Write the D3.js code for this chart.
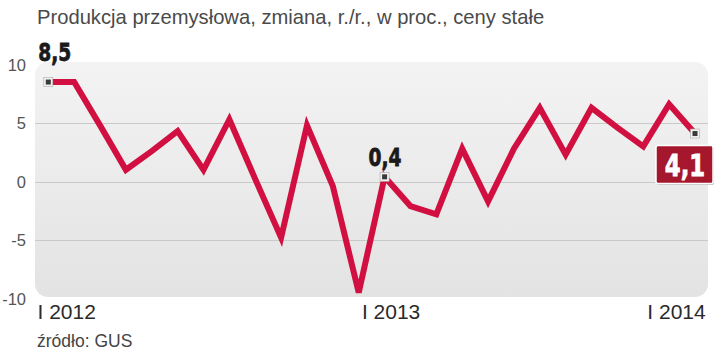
<!DOCTYPE html>
<html>
<head>
<meta charset="utf-8">
<script src="https://cdn.jsdelivr.net/npm/d3@7"></script>
<style>
  body { margin: 0; background: #fff; }
  svg { display: block; font-family: "Liberation Sans", Arial, sans-serif; }
</style>
</head>
<body>
<svg id="chart" width="720" height="352"></svg>
<script>
// miesiące XII 2011 – I 2014
const months = ["XII 2011", "I 2012", "II 2012", "III 2012", "IV 2012", "V 2012", "VI 2012",
  "VII 2012", "VIII 2012", "IX 2012", "X 2012", "XI 2012", "XII 2012", "I 2013", "II 2013",
  "III 2013", "IV 2013", "V 2013", "VI 2013", "VII 2013", "VIII 2013", "IX 2013", "X 2013",
  "XI 2013", "XII 2013", "I 2014"];
const values = [8.5, 8.5, 4.8, 1.0, 2.6, 4.3, 1.0, 5.3, 0.2, -4.8, 4.8, -0.4, -9.5, 0.4,
  -2.1, -2.8, 2.8, -1.7, 2.8, 6.3, 2.3, 6.3, 4.6, 3.0, 6.6, 4.1];
const yTicks = [10, 5, 0, -5, -10];
const xTickLabels = ["I 2012", "I 2013", "I 2014"];
const labelled = ["XII 2011", "I 2013", "I 2014"];

const title = "Produkcja przemysłowa, zmiana, r./r., w proc., ceny stałe";
const source = "źródło: GUS";

const svg = d3.select("#chart");
const fmt = v => d3.format(".1f")(v).replace(".", ",");

const x = d3.scalePoint().domain(months).range([48.3, 695]);
const y = d3.scaleLinear().domain([-10, 10]).range([298.5, 64.5]);

const defs = svg.append("defs");
const grad = defs.append("linearGradient").attr("id", "bg").attr("x1", 0).attr("y1", 0).attr("x2", 0).attr("y2", 1);
grad.append("stop").attr("offset", "0%").attr("stop-color", "#f3f3f3");
grad.append("stop").attr("offset", "100%").attr("stop-color", "#e3e3e3");

// tło wykresu
svg.append("rect")
  .attr("x", 35).attr("y", 62)
  .attr("width", 673).attr("height", 235)
  .attr("rx", 13)
  .attr("fill", "url(#bg)");

// linie siatki
svg.append("g")
  .selectAll("line")
  .data(yTicks.filter(d => d > -10 && d < 10))
  .join("line")
  .attr("x1", 35).attr("x2", 708)
  .attr("y1", d => Math.round(y(d)) + 0.5)
  .attr("y2", d => Math.round(y(d)) + 0.5)
  .attr("stroke", "#c9c9c9")
  .attr("stroke-width", 1.2);

// oś Y
const yAxis = svg.append("g")
  .attr("transform", "translate(26,0)")
  .call(d3.axisLeft(y).tickValues(yTicks).tickFormat(d => String(d)).tickSize(0).tickPadding(0));
yAxis.select(".domain").remove();
yAxis.selectAll("text")
  .attr("font-family", "Liberation Sans, Arial, sans-serif")
  .attr("font-size", 16.5)
  .attr("fill", "#555")
  .attr("dy", "0.36em");

// oś X
const xAxis = svg.append("g")
  .attr("transform", "translate(0,300)")
  .call(d3.axisBottom(x).tickValues(xTickLabels).tickSize(0).tickPadding(4));
xAxis.select(".domain").remove();
const xShift = { "I 2012": -8, "I 2013": 6, "I 2014": -19 };
xAxis.selectAll("text")
  .attr("font-family", "Liberation Sans, Arial, sans-serif")
  .attr("font-size", 21)
  .attr("fill", "#2a2a2a")
  .attr("dx", d => xShift[d])
  .attr("dy", "0.71em");

// linia
const line = d3.line()
  .x((d, i) => x(months[i]))
  .y(d => y(d));

svg.append("path")
  .datum(values)
  .attr("fill", "none")
  .attr("stroke", "#d10f41")
  .attr("stroke-width", 6)
  .attr("stroke-linejoin", "miter")
  .attr("d", line);

// znaczniki
const pts = labelled.map(m => ({ m, v: values[months.indexOf(m)] }));
const mk = svg.append("g").selectAll("g").data(pts).join("g")
  .attr("transform", d => `translate(${x(d.m)},${y(d.v)})`);
mk.append("rect")
  .attr("x", -4.5).attr("y", -4.5).attr("width", 9).attr("height", 9)
  .attr("fill", "#f2f2f2").attr("stroke", "#aaa").attr("stroke-width", 0.6);
mk.append("rect")
  .attr("x", -2.5).attr("y", -2.5).attr("width", 5).attr("height", 5)
  .attr("fill", "#3a3a3a");

// podpisy wartości (pogrubione, zwężone)
const bold = "'DejaVu Sans', sans-serif";
const first = pts[0], mid = pts[1], last = pts[2];

function boldLabel(tx, ty, anchor, size, color, txt) {
  svg.append("text")
    .attr("transform", `translate(${tx},${ty}) scale(0.76,1)`)
    .attr("text-anchor", anchor)
    .attr("font-family", bold).attr("font-weight", "bold").attr("font-size", size)
    .attr("fill", color)
    .attr("stroke", color).attr("stroke-width", 0.8)
    .text(txt);
}

boldLabel(x(first.m) - 10, y(first.v) - 21, "start", 24.5, "#1a1a1a", fmt(first.v));
boldLabel(x(mid.m) + 0.5, y(mid.v) - 11, "middle", 24.5, "#1a1a1a", fmt(mid.v));

const bx = x(last.m) - 39, by = y(last.v) + 12;
svg.append("rect")
  .attr("x", bx + 1).attr("y", by + 1.5).attr("width", 57).attr("height", 38)
  .attr("rx", 2).attr("fill", "#bdbdbd");
svg.append("rect")
  .attr("x", bx).attr("y", by).attr("width", 57).attr("height", 38)
  .attr("rx", 2).attr("fill", "#a5172d").attr("stroke", "#fff").attr("stroke-width", 1.5);
boldLabel(bx + 29, by + 30.5, "middle", 30, "#fff", fmt(last.v));

// tytuł i źródło
svg.append("text")
  .attr("x", 37).attr("y", 24)
  .attr("font-size", 20.2).attr("fill", "#4a4a4a")
  .text(title);

svg.append("text")
  .attr("x", 37).attr("y", 347)
  .attr("font-size", 17.5).attr("fill", "#444")
  .text(source);
</script>
</body>
</html>
